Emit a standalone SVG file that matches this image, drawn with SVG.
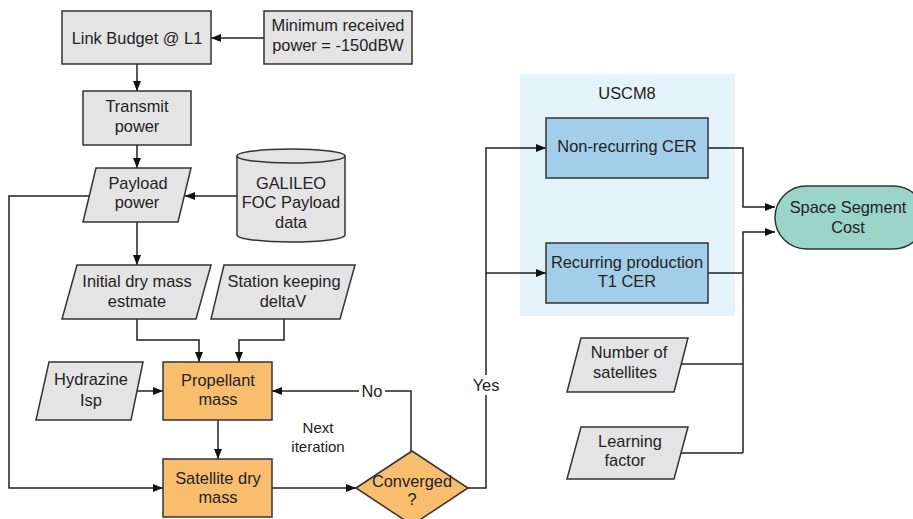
<svg xmlns="http://www.w3.org/2000/svg" width="913" height="519" viewBox="0 0 913 519">
<style>
text{font-family:"Liberation Sans",Arial,sans-serif;font-size:16.4px;fill:#222;text-anchor:middle}
.g{fill:#e4e4e4;stroke:#333;stroke-width:1.5}
.o{fill:#f8be6e;stroke:#333;stroke-width:1.5}
.b{fill:#a3cee9;stroke:#333;stroke-width:1.5}
.t{fill:#9bd5c8;stroke:#333;stroke-width:1.5}
.c{fill:none;stroke:#222;stroke-width:1.5}
.s{font-size:15px}
</style>
<defs>
<marker id="a" markerUnits="userSpaceOnUse" markerWidth="11" markerHeight="8" refX="10" refY="4" orient="auto">
<path d="M0,0 L10,4 L0,8 z" fill="#111"/>
</marker>
</defs>
<rect id="uscm8-bg" x="520" y="74" width="215" height="242" fill="#e4f2f9"/>
<text x="627" y="98.5">USCM8</text>

<g id="connectors" class="c" marker-end="url(#a)">
<path d="M264,38 L211,38"/>
<path d="M137,64 L137,91"/>
<path d="M137,145 L137,168"/>
<path d="M237,196 L185,196"/>
<path d="M137,222 L137,265"/>
<path d="M137,319 L137,340 L199,340 L199,362"/>
<path d="M284,319 L284,340 L239,340 L239,362"/>
<path d="M137,391 L163,391"/>
<path d="M218,420 L218,459"/>
<path d="M89,196 L9,196 L9,488 L163,488"/>
<path d="M272,488 L356,488"/>
<path d="M411,452 L411,391 L272,391"/>
<path d="M468,488 L486,488 L486,148 L546,148"/>
<path d="M486,273 L546,273"/>
<path d="M708,148 L743,148 L743,207 L775,207"/>
<path d="M743,453 L743,232 L775,232"/>
<path d="M708,273 L743,273" marker-end="none"/>
<path d="M681,364 L743,364" marker-end="none"/>
<path d="M681,453 L743,453" marker-end="none"/>
</g>
<g id="label-no"><rect x="359" y="382" width="26" height="18" fill="#fff"/><text x="372" y="397">No</text></g>
<g id="label-yes"><rect x="470" y="375" width="32" height="20" fill="#fff"/><text x="486" y="390.5">Yes</text></g>
<g id="label-next"><text class="s" x="318" y="433">Next</text><text class="s" x="318" y="452">iteration</text></g>

<g id="link-budget"><rect class="g" x="62" y="11" width="149" height="53"/><text x="137" y="43.5">Link Budget @ L1</text></g>
<g id="min-power"><rect class="g" x="264" y="11" width="148" height="53"/><text x="338" y="30.5">Minimum received</text><text x="338" y="50.5">power = -150dBW</text></g>
<g id="transmit"><rect class="g" x="83" y="91" width="108" height="54"/><text x="137" y="111.5">Transmit</text><text x="137" y="131.5">power</text></g>
<g id="payload"><path class="g" d="M96,168 L191,168 L178,222 L83,222 Z"/><text x="138" y="188.5">Payload</text><text x="137" y="208">power</text></g>
<g id="galileo"><path class="g" d="M237,156 L237,235 A54,7 0 0 0 345,235 L345,156 A54,7 0 0 0 237,156 Z"/><path class="g" fill="none" d="M237,156 A54,7 0 0 0 345,156"/><text x="291" y="188.5">GALILEO</text><text x="291" y="208">FOC Payload</text><text x="291" y="227.5">data</text></g>
<g id="initial-dry"><path class="g" d="M77,265 L211,265 L196,319 L62,319 Z"/><text x="137" y="286.5">Initial dry mass</text><text x="137" y="306.5">estmate</text></g>
<g id="station"><path class="g" d="M224,265 L355,265 L340,319 L211,319 Z"/><text x="284" y="286.5">Station keeping</text><text x="283" y="306.5">deltaV</text></g>
<g id="hydrazine"><path class="g" d="M49,362 L143,362 L131,420 L36,420 Z"/><text x="91" y="384.5">Hydrazine</text><text x="91" y="405.5">Isp</text></g>
<g id="propellant"><rect class="o" x="163" y="362" width="109" height="58"/><text x="218" y="385.5">Propellant</text><text x="218" y="404.5">mass</text></g>
<g id="satellite"><rect class="o" x="163" y="459" width="109" height="58"/><text x="218" y="483.5">Satellite dry</text><text x="218" y="502.5">mass</text></g>
<g id="converged"><path class="o" d="M356,488 L412,451 L468,488 L412,525 Z"/><text x="412" y="486.5">Converged</text><text x="412" y="504.5">?</text></g>
<g id="nonrecurring"><rect class="b" x="546" y="118" width="162" height="60"/><text x="627" y="151.5">Non-recurring CER</text></g>
<g id="recurring"><rect class="b" x="546" y="243" width="162" height="60"/><text x="627" y="267.5">Recurring production</text><text x="627" y="286.5">T1 CER</text></g>
<g id="num-sats"><path class="g" d="M581,338 L688,338 L674,392 L567,392 Z"/><text x="629" y="357.5">Number of</text><text x="625" y="377.5">satellites</text></g>
<g id="learning"><path class="g" d="M581,427 L688,427 L674,479 L567,479 Z"/><text x="630" y="446.5">Learning</text><text x="625" y="465.5">factor</text></g>
<g id="space-cost"><rect class="t" x="775" y="186" width="150" height="63" rx="31.5" ry="31.5"/><text x="848" y="212.5">Space Segment</text><text x="848" y="232.5">Cost</text></g>
</svg>
